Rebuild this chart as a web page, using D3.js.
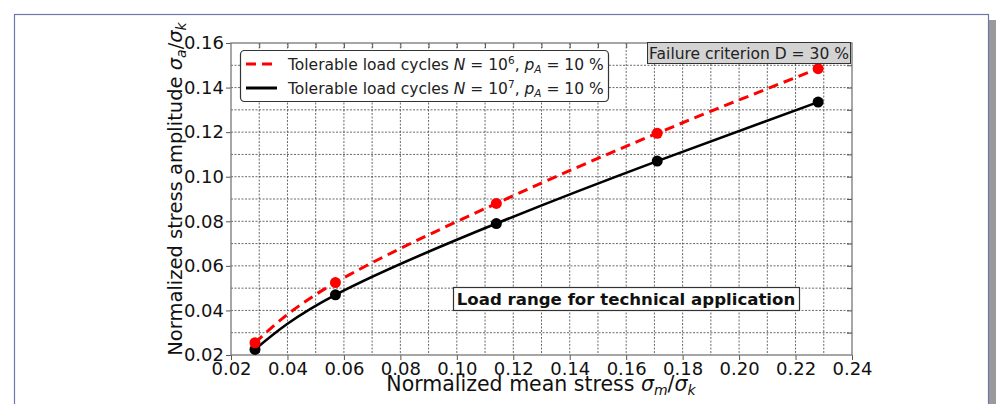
<!DOCTYPE html>
<html>
<head>
<meta charset="utf-8">
<script src="https://cdn.jsdelivr.net/npm/d3@7"></script>
<style>
  body { margin: 0; background: #fff; }
  svg { font-family: "DejaVu Sans", Verdana, sans-serif; }
</style>
</head>
<body>
<div id="chart"></div>
<script>
// values
var meanStress = [0.0285, 0.057, 0.114, 0.171, 0.228];
var ampN6 = [0.0255, 0.0525, 0.088, 0.1195, 0.1485];
var ampN7 = [0.0225, 0.047, 0.079, 0.107, 0.1335];
var xTicks = [0.02, 0.04, 0.06, 0.08, 0.10, 0.12, 0.14, 0.16, 0.18, 0.20, 0.22, 0.24];
var yTicks = [0.02, 0.04, 0.06, 0.08, 0.10, 0.12, 0.14, 0.16];

var W = 1005, H = 404;
var margin = {top: 43, right: 153, bottom: 49, left: 231};
var width = W - margin.left - margin.right,
    height = H - margin.top - margin.bottom;

var svg = d3.select("#chart").append("svg")
  .attr("width", W)
  .attr("height", H);

// outer frame with shadow
svg.append("rect").attr("x", 20).attr("y", 20).attr("width", 976).attr("height", 420).attr("fill", "#9a9a9a");
svg.append("rect").attr("x", 14.5).attr("y", 14.5).attr("width", 974).attr("height", 420)
  .attr("fill", "#fff").attr("stroke", "#6a78ab").attr("stroke-width", 1.2);

var g = svg.append("g").attr("transform", "translate(" + margin.left + "," + margin.top + ")");

var x = d3.scaleLinear().domain([0.02, 0.24]).range([0, width]);
var y = d3.scaleLinear().domain([0.02, 0.16]).range([height, 0]);

// grid every 0.01
var xGrid = d3.range(3, 24).map(function(d) { return d / 100; });
var yGrid = d3.range(3, 16).map(function(d) { return d / 100; });

g.selectAll(".gx").data(xGrid).enter().append("line")
  .attr("x1", function(d) { return x(d); }).attr("x2", function(d) { return x(d); })
  .attr("y1", 0).attr("y2", height)
  .attr("stroke", "#444").attr("stroke-width", 0.8).attr("stroke-dasharray", "2,1.5");
g.selectAll(".gy").data(yGrid).enter().append("line")
  .attr("y1", function(d) { return y(d); }).attr("y2", function(d) { return y(d); })
  .attr("x1", 0).attr("x2", width)
  .attr("stroke", "#444").attr("stroke-width", 0.8).attr("stroke-dasharray", "2,1.5");

// inward ticks on top and right
var xt = d3.axisTop(x).tickValues(xGrid).tickSize(-5).tickFormat("");
g.append("g").call(xt).call(function(s) { s.select(".domain").remove(); s.selectAll("line").attr("stroke", "#555"); });
var yt = d3.axisRight(y).tickValues(yGrid).tickSize(-5).tickFormat("");
g.append("g").attr("transform", "translate(" + width + ",0)").call(yt)
  .call(function(s) { s.select(".domain").remove(); s.selectAll("line").attr("stroke", "#555"); });

// axes
var xAxis = d3.axisBottom(x).tickValues(xTicks).tickSize(5).tickPadding(2).tickFormat(d3.format(".2f"));
var yAxis = d3.axisLeft(y).tickValues(yTicks).tickSize(5).tickPadding(2).tickFormat(d3.format(".2f"));

g.append("g").attr("transform", "translate(0," + height + ")").call(xAxis)
  .call(function(s) {
    s.select(".domain").remove();
    s.selectAll("line").attr("stroke", "#555");
    s.selectAll("text").attr("font-size", 18).attr("fill", "#111").attr("font-family", "DejaVu Sans");
  });
g.append("g").call(yAxis)
  .call(function(s) {
    s.select(".domain").remove();
    s.selectAll("line").attr("stroke", "#555");
    s.selectAll("text").attr("font-size", 18).attr("fill", "#111").attr("font-family", "DejaVu Sans");
  });

g.append("rect").attr("width", width).attr("height", height)
  .attr("fill", "none").attr("stroke", "#777").attr("stroke-width", 1.3);

// curves
var line = d3.line()
  .x(function(d) { return x(d[0]); })
  .y(function(d) { return y(d[1]); })
  .curve(d3.curveNatural);

var s6 = meanStress.map(function(v, i) { return [v, ampN6[i]]; });
var s7 = meanStress.map(function(v, i) { return [v, ampN7[i]]; });

g.append("path").datum(s7).attr("d", line).attr("fill", "none")
  .attr("stroke", "#000").attr("stroke-width", 2.6);
g.selectAll(".p7").data(s7).enter().append("circle")
  .attr("cx", function(d) { return x(d[0]); }).attr("cy", function(d) { return y(d[1]); })
  .attr("r", 5.5).attr("fill", "#000");

g.append("path").datum(s6).attr("d", line).attr("fill", "none")
  .attr("stroke", "#ff0000").attr("stroke-width", 3).attr("stroke-dasharray", "10,6");
g.selectAll(".p6").data(s6).enter().append("circle")
  .attr("cx", function(d) { return x(d[0]); }).attr("cy", function(d) { return y(d[1]); })
  .attr("r", 5.5).attr("fill", "#ff0000");

// legend
var lg = svg.append("g");
lg.append("rect").attr("x", 240.5).attr("y", 50.5).attr("width", 368).attr("height", 51)
  .attr("rx", 4).attr("fill", "#fff").attr("stroke", "#333").attr("stroke-width", 1.2);
lg.append("line").attr("x1", 246).attr("x2", 277).attr("y1", 64).attr("y2", 64)
  .attr("stroke", "#ff0000").attr("stroke-width", 3).attr("stroke-dasharray", "10,6");
lg.append("line").attr("x1", 246).attr("x2", 277).attr("y1", 88).attr("y2", 88)
  .attr("stroke", "#000").attr("stroke-width", 3);

function legendText(yy, exp) {
  var t = lg.append("text").attr("x", 288).attr("y", yy).attr("font-size", 15.5).attr("fill", "#222");
  t.append("tspan").text("Tolerable load cycles ");
  t.append("tspan").attr("font-style", "italic").text("N");
  t.append("tspan").text(" = 10");
  t.append("tspan").attr("font-size", 10.5).attr("dy", -6).text(exp);
  t.append("tspan").attr("dy", 6).text(", ");
  t.append("tspan").attr("font-style", "italic").text("p");
  t.append("tspan").attr("font-style", "italic").attr("font-size", 10.5).attr("dy", 3).text("A");
  t.append("tspan").attr("dy", -3).text(" = 10 %");
}
legendText(70, "6");
legendText(94, "7");

// annotation boxes
svg.append("rect").attr("x", 647.5).attr("y", 42.5).attr("width", 203).attr("height", 21)
  .attr("fill", "#d3d3d3").attr("stroke", "#333").attr("stroke-width", 1);
svg.append("text").attr("x", 749).attr("y", 59).attr("text-anchor", "middle")
  .attr("font-size", 15.5).attr("fill", "#222").text("Failure criterion D = 30 %");

svg.append("rect").attr("x", 453.5).attr("y", 287.5).attr("width", 346).attr("height", 23)
  .attr("fill", "#fff").attr("stroke", "#333").attr("stroke-width", 1.2);
svg.append("text").attr("x", 626).attr("y", 305).attr("text-anchor", "middle")
  .attr("font-size", 16.6).attr("font-weight", "bold").attr("fill", "#111")
  .text("Load range for technical application");

// axis titles
var xl = svg.append("text").attr("x", 541).attr("y", 391)
  .attr("text-anchor", "middle").attr("font-size", 20.5).attr("fill", "#111");
xl.append("tspan").text("Normalized mean stress ");
xl.append("tspan").attr("font-style", "italic").text("σ");
xl.append("tspan").attr("font-style", "italic").attr("font-size", 14).attr("dy", 4).text("m");
xl.append("tspan").attr("dy", -4).text("/");
xl.append("tspan").attr("font-style", "italic").text("σ");
xl.append("tspan").attr("font-style", "italic").attr("font-size", 14).attr("dy", 4).text("k");

var yl = svg.append("text").attr("transform", "translate(182,189) rotate(-90)")
  .attr("text-anchor", "middle").attr("font-size", 19.5).attr("fill", "#111");
yl.append("tspan").text("Normalized stress amplitude ");
yl.append("tspan").attr("font-style", "italic").text("σ");
yl.append("tspan").attr("font-style", "italic").attr("font-size", 14).attr("dy", 4).text("a");
yl.append("tspan").attr("dy", -4).text("/");
yl.append("tspan").attr("font-style", "italic").text("σ");
yl.append("tspan").attr("font-style", "italic").attr("font-size", 14).attr("dy", 4).text("k");
</script>
</body>
</html>
